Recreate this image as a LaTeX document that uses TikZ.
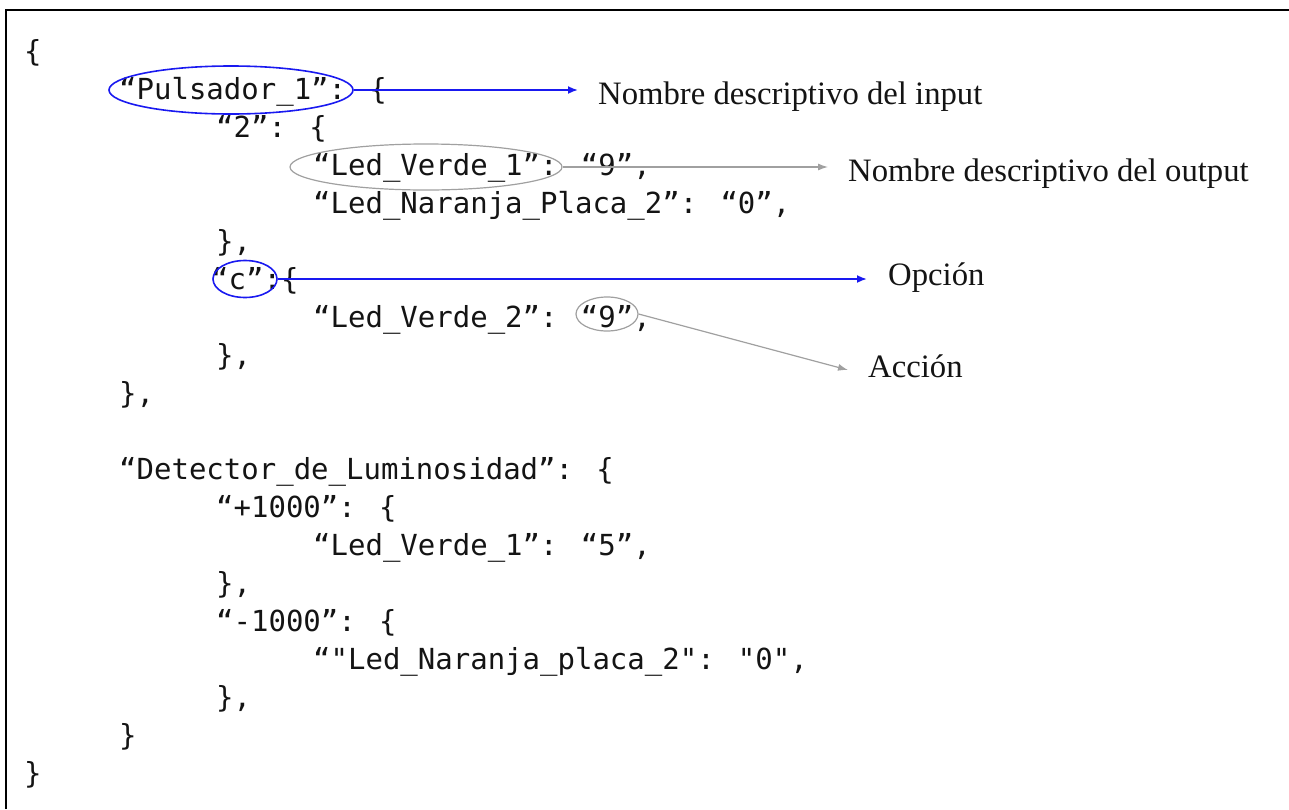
\documentclass[tikz,border=0pt]{standalone}
\usepackage{fontspec}
\setmainfont{Liberation Serif}
\newfontfamily\codefont{DejaVu Sans Mono}
\usetikzlibrary{shapes.geometric,arrows.meta}
\definecolor{markblue}{RGB}{25,25,240}
\definecolor{markgray}{RGB}{160,160,160}
\definecolor{codeink}{RGB}{20,20,20}
\tikzset{
  code/.style={anchor=base west, inner sep=0pt, text=codeink, font=\codefont\fontsize{29}{29}\selectfont},
  lab/.style={anchor=base west, inner sep=0pt, text=codeink, font=\fontsize{32.7}{32.7}\selectfont},
  blueoval/.style={draw=markblue, line width=1.6pt, ellipse, inner sep=0pt},
  grayoval/.style={draw=markgray, line width=1.2pt, ellipse, inner sep=0pt},
  bluearrow/.style={draw=markblue, line width=1.8pt, -{Latex[length=10pt,width=8pt]}},
  grayarrow/.style={draw=markgray, line width=1.2pt, -{Latex[length=10pt,width=7pt]}},
  frameline/.style={line width=2pt, draw=black}
}
\begin{document}
\begin{tikzpicture}[x=1pt,y=-1pt]
\useasboundingbox (0,0) rectangle (1289,809);
\draw[frameline] (6,809) -- (6,10) -- (1289,10);

% code lines
\node[code] (c0)  at (24,61)   {\{};
\node[code] (c1)  at (119,99)  {“Pulsador\_1”: \{};
\node[code] (c2)  at (216,137) {“2”: \{};
\node[code] (c3)  at (313,175) {“Led\_Verde\_1”: “9”,};
\node[code] (c4)  at (313,213) {“Led\_Naranja\_Placa\_2”: “0”,};
\node[code] (c5)  at (216,251) {\},};
\node[code] (c6)  at (211,289) {“c”:\{};
\node[code] (c7)  at (313,327) {“Led\_Verde\_2”: “9”,};
\node[code] (c8)  at (216,365) {\},};
\node[code] (c9)  at (119,403) {\},};
\node[code] (c11) at (119,479) {“Detector\_de\_Luminosidad”: \{};
\node[code] (c12) at (216,517) {“+1000”: \{};
\node[code] (c13) at (313,555) {“Led\_Verde\_1”: “5”,};
\node[code] (c14) at (216,593) {\},};
\node[code] (c15) at (216,631) {“-1000”: \{};
\node[code] (c16) at (313,669) {“"Led\_Naranja\_placa\_2": "0",};
\node[code] (c17) at (216,707) {\},};
\node[code] (c18) at (119,745) {\}};
\node[code] (c19) at (24,783)  {\}};

% highlight ovals
\node[blueoval, minimum width=244pt, minimum height=48pt] (e1) at (231,90) {};
\node[grayoval, minimum width=272pt, minimum height=46pt] (e2) at (426,167) {};
\node[blueoval, minimum width=64pt, minimum height=37pt] (e3) at (245,279) {};
\node[grayoval, minimum width=62pt, minimum height=34pt] (e4) at (607,314) {};

% labels
\node[lab] (l1) at (598,104) {Nombre descriptivo del input};
\node[lab] (l2) at (848,181) {Nombre descriptivo del output};
\node[lab] (l3) at (888,285) {Opción};
\node[lab] (l4) at (868,377) {Acción};

% arrow tips
\coordinate (t1) at (578,90);
\coordinate (t2) at (828,167);
\coordinate (t3) at (867,279);
\coordinate (t4) at (848,370);

\draw[bluearrow] (e1.east) -- (t1);
\draw[grayarrow] (e2.east) -- (t2);
\draw[bluearrow] (e3.east) -- (t3);
\draw[grayarrow] (e4.east) -- (t4);
\end{tikzpicture}
\end{document}
